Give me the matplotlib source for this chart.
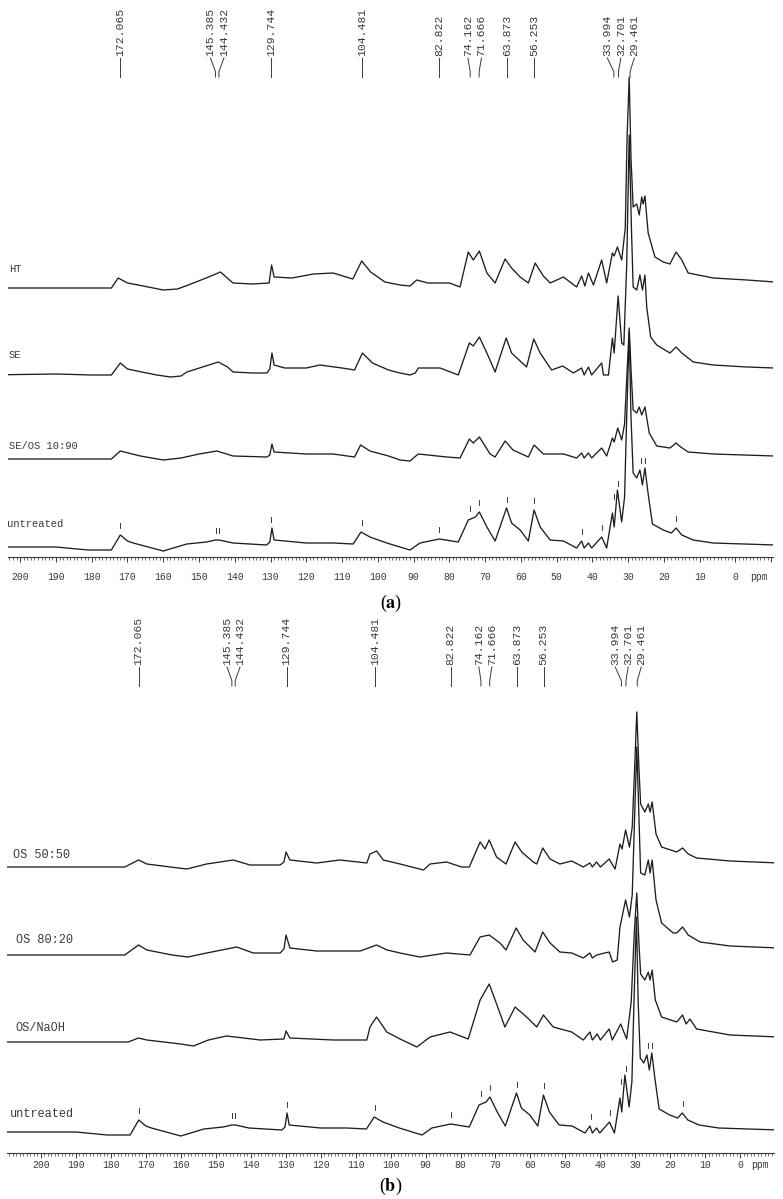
import matplotlib
matplotlib.use("Agg")
import matplotlib.pyplot as plt
import numpy as np
from matplotlib.ticker import FixedLocator, MultipleLocator

plt.rcParams['font.family'] = ['Liberation Mono', 'DejaVu Sans Mono']
plt.rcParams['mathtext.fontset'] = 'stix'

# ---------------- data ----------------
peak_labels = [172.065, 145.385, 144.432, 129.744, 104.481, 82.822, 74.162,
               71.666, 63.873, 56.253, 33.994, 32.701, 29.461]
mark_ppm = [172.065, 145.385, 144.432, 129.744, 104.481, 82.822, 74.162, 71.666,
            63.873, 56.253, 42.8, 37.4, 33.994, 32.701, 26.3, 25.2, 16.5]
tick_values = list(range(200, -1, -10))

labels_a = ['HT', 'SE', 'SE/OS 10:90', 'untreated']
labels_b = ['OS 50:50', 'OS 80:20', 'OS/NaOH', 'untreated']

ht = [(210, 0), (185, 0), (174.5, 0), (172.6, 10), (170, 5), (165.6, 2), (160, -2), (156, -1),
      (153, 3), (148, 10), (144, 16), (140.5, 5), (135, 4), (130.4, 5), (129.7, 23), (129.0, 11),
      (124, 10), (118, 14), (112.5, 15), (107, 9), (104.5, 27), (102, 16), (98, 6), (93.8, 3),
      (91, 2), (89.1, 8), (86, 5), (80, 5), (77, 1), (74.7, 36), (73.3, 28), (71.6, 37), (69.5, 15),
      (67.2, 5), (64.4, 29), (62.6, 20), (60.2, 11), (57.9, 5), (56.0, 25), (53.7, 12), (51.8, 5),
      (48.1, 11), (44.4, 1), (43.0, 12), (42.1, 2), (41.1, 15), (39.7, 3), (37.4, 28), (36.0, 5),
      (34.4, 35), (33.9, 32), (33.0, 41), (31.8, 28), (30.8, 60), (30.3, 150), (29.7, 211),
      (29.2, 130), (28.6, 81), (27.6, 84), (26.9, 73), (26.2, 91), (25.8, 84), (25.3, 92),
      (24.4, 55), (22.5, 31), (20.2, 26), (18.3, 24), (16.6, 36), (15.0, 28), (13.2, 15),
      (6.2, 10), (-3.2, 8), (-11, 6)]

se = [(210, 0), (190, 1), (180, 0), (174.5, 0), (172.0, 12), (170, 6), (166, 3), (161.8, 0),
      (158, -2), (155, -1), (153.4, 3), (149, 8), (144.6, 13), (142, 8), (140.5, 3), (135, 2),
      (131, 2), (130.2, 6), (129.6, 22), (129.0, 10), (126, 7), (120, 7), (116.2, 10), (110, 7),
      (106.5, 5), (104.3, 22), (101.5, 12), (97, 5), (93.8, 2), (91, 0), (89.5, 2), (88.7, 7),
      (82.6, 7), (77.5, 0), (74.4, 32), (73.3, 29), (71.6, 38), (69.5, 22), (67.2, 3), (64.1, 37),
      (62.6, 22), (58.4, 8), (56.4, 36), (54.6, 22), (51.4, 5), (48.3, 9), (45.3, 2), (43.0, 7),
      (42.3, 0), (41.1, 8), (40.2, 0), (37.4, 12), (36.9, 0), (35.5, 0), (34.4, 37), (33.9, 22),
      (32.8, 79), (31.8, 32), (31.2, 30), (30.4, 110), (29.7, 240), (29.1, 150), (28.6, 88),
      (27.6, 85), (26.7, 100), (26.0, 85), (25.3, 100), (24.8, 68), (23.7, 38), (22.0, 30),
      (18.3, 22), (16.6, 28), (15.0, 22), (11.8, 13), (6.2, 10), (-3.2, 8), (-11, 7)]

se_os = [(210, 0), (180, 0), (174.5, 0), (172.0, 8), (166.4, 3), (160, -1), (155, 1), (150, 5),
         (145, 8), (140.5, 3), (131, 2), (130.2, 4), (129.6, 15), (129.0, 7), (120, 5), (112.5, 5),
         (106.5, 2), (104.8, 14), (102.2, 8), (97, 3), (93.8, -1), (91, -2), (88.7, 5), (80.7, 2),
         (77, 1), (74.4, 20), (73.3, 16), (71.6, 22), (68.6, 5), (67.2, 2), (64.4, 18), (62.2, 9),
         (57.9, 2), (56.3, 14), (53.7, 5), (48.1, 5), (44.4, 1), (43.0, 6), (42.3, 1), (41.1, 6),
         (40.2, 1), (37.4, 11), (36.0, 3), (34.4, 21), (33.9, 17), (32.9, 31), (31.8, 19),
         (31.0, 35), (30.4, 80), (29.7, 131), (29.2, 90), (28.6, 49), (27.6, 46), (26.9, 52),
         (26.2, 44), (25.3, 52), (24.1, 26), (22.0, 13), (18.3, 11), (16.6, 16), (15.3, 12),
         (13.2, 7), (6.2, 5), (-11, 3)]

untreated = [(210, 0), (190, 0), (181, -3), (174.5, -3), (172.0, 12), (170, 6), (168.4, 4),
             (160, -4), (153.4, 3), (147.9, 5), (145.4, 7), (144.4, 7), (140.5, 4), (131.1, 2),
             (130.2, 5), (129.6, 19), (129.0, 7), (120, 4), (112.5, 4), (106.9, 3), (104.7, 15),
             (102.2, 10), (97.5, 4), (93.8, 0), (91, -3), (88.2, 4), (82.8, 8), (77.5, 5),
             (74.7, 27), (72.7, 30), (71.6, 35), (69.5, 20), (67.2, 6), (64.0, 39), (62.6, 24),
             (60.2, 17), (57.9, 6), (56.3, 37), (54.6, 20), (51.8, 7), (48.1, 6), (44.4, -1),
             (43.0, 6), (42.3, -1), (41.1, 4), (40.2, -1), (37.4, 10), (36.0, -1), (34.4, 34),
             (33.9, 20), (33.0, 57), (31.8, 25), (31.0, 50), (30.4, 130), (29.7, 215), (29.2, 130),
             (28.6, 74), (27.6, 69), (26.7, 77), (26.0, 62), (25.3, 79), (24.4, 53), (23.2, 23),
             (20.2, 17), (17.9, 14), (16.6, 19), (15.0, 12), (11.8, 7), (6.2, 4), (-11, 2)]

os_5050 = [(210, 0), (190, 0), (176, 0), (172.1, 7), (169.7, 3), (163, 0), (158.3, -2), (152.6, 3),
           (145, 7), (140.2, 2), (131.6, 2), (130.5, 5), (129.9, 15), (128.8, 7), (121.1, 4),
           (114.5, 7), (106.8, 4), (105.9, 13), (104.0, 16), (102.1, 7), (97.3, 3), (90.6, -3),
           (88.7, 3), (84.0, 5), (79.7, 0), (77.5, 0), (74.4, 25), (73.0, 18), (71.8, 27),
           (69.7, 10), (67.0, 3), (64.4, 25), (62.5, 15), (59.2, 5), (58.2, 3), (56.5, 19),
           (54.4, 8), (51.6, 3), (48.2, 6), (44.9, 0), (43.0, 4), (42.3, 0), (41.1, 5), (40.0, 0),
           (37.5, 8), (35.8, -2), (34.4, 23), (33.8, 18), (32.8, 37), (31.7, 20), (30.9, 40),
           (30.2, 100), (29.6, 155), (29.0, 100), (28.5, 63), (27.3, 55), (26.3, 63), (25.8, 55),
           (25.2, 65), (24.1, 33), (22.5, 20), (18.2, 15), (16.5, 19), (14.9, 13), (12.5, 9),
           (2.9, 6), (-11, 4)]

os_8020 = [(210, 0), (185, 0), (176, 0), (172.1, 10), (169.7, 5), (162.5, 0), (158, -2), (152.6, 2),
           (144, 8), (139.3, 2), (131.6, 2), (130.5, 6), (129.9, 20), (128.8, 7), (121.1, 4),
           (108.7, 4), (104.0, 10), (101, 5), (97.3, 2), (91.6, -2), (84.0, 2), (77.3, 0),
           (74.4, 18), (71.8, 20), (68.7, 12), (67.0, 5), (64.1, 27), (62.1, 15), (58.7, 3),
           (56.5, 23), (54.4, 12), (51.6, 3), (48.2, 2), (44.9, -3), (43.0, 2), (42.3, -3),
           (41.1, 0), (37.5, 3), (36.5, -7), (35.2, -5), (34.4, 28), (32.8, 55), (31.7, 38),
           (30.9, 60), (30.2, 140), (29.6, 208), (29.0, 140), (28.5, 82), (27.3, 80), (26.3, 95),
           (25.8, 82), (25.2, 95), (24.1, 55), (22.5, 32), (19.2, 22), (18.2, 22), (16.5, 28),
           (14.9, 20), (11.5, 13), (2.9, 9), (-11, 7)]

os_naoh = [(210, 0), (185, 0), (175, 0), (172.1, 4), (169.7, 2), (160, -2), (156.4, -4), (152.1, 2),
           (146.9, 6), (137.3, 2), (130.5, 3), (129.9, 11), (128.8, 4), (116.4, 2), (106.8, 2),
           (105.9, 15), (104.0, 25), (101.1, 10), (97.3, 3), (92.5, -5), (88.7, 5), (83.0, 10),
           (77.8, 3), (74.4, 42), (71.8, 58), (70.1, 42), (67.3, 15), (64.4, 35), (61.1, 25),
           (58.2, 15), (56.3, 27), (53.5, 15), (48.2, 10), (44.9, 2), (43.0, 10), (42.3, 2),
           (40.9, 8), (40.0, 2), (37.5, 13), (36.6, 2), (34.2, 18), (32.5, 3), (31.2, 40),
           (30.3, 110), (29.6, 149), (29.0, 100), (28.5, 68), (27.3, 62), (26.3, 70), (25.8, 62),
           (25.2, 72), (24.3, 42), (22.5, 25), (18.2, 20), (16.5, 27), (15.5, 18), (14.4, 23),
           (12.5, 13), (2.9, 7), (-11, 5)]

spectra_a = [ht, se, se_os, untreated]
spectra_b = [os_5050, os_8020, os_naoh, untreated]

# ---------------- layout ----------------
W, H = 783, 1199
INK = '#1e1e1e'
TXT = '#3a3a3a'
fig = plt.figure(figsize=(W / 100, H / 100), dpi=100)


def px_axes(x0, x1, y_top, y_axis, ppm_left, ppm_right):
    ax = fig.add_axes([x0 / W, 1 - y_axis / H, (x1 - x0) / W, (y_axis - y_top) / H])
    ax.set_xlim(ppm_left, ppm_right)
    ax.set_ylim(0, y_axis - y_top)
    for s in ('top', 'left', 'right'):
        ax.spines[s].set_visible(False)
    ax.spines['bottom'].set_color(TXT)
    ax.spines['bottom'].set_linewidth(0.8)
    ax.set_yticks([])
    majors = [v for v in range(-10, 211, 10) if min(ppm_left, ppm_right) <= v <= max(ppm_left, ppm_right)]
    ax.xaxis.set_major_locator(FixedLocator(majors))
    ax.xaxis.set_minor_locator(MultipleLocator(1))
    ax.tick_params(axis='x', which='major', direction='out', length=3.8, width=0.7,
                   color=TXT, labelbottom=False)
    ax.tick_params(axis='x', which='minor', direction='out', length=2.0, width=0.5, color=TXT)
    ax.patch.set_alpha(0)
    return ax


def spread(px, gap):
    order = np.argsort(px)
    clusters = [[px[i]] for i in order]
    changed = True
    while changed:
        changed = False
        new = []
        for c in clusters:
            if new:
                prev = new[-1]
                prev_last = np.mean(prev) + gap * (len(prev) - 1) / 2
                cur_first = np.mean(c) - gap * (len(c) - 1) / 2
                if cur_first - prev_last < gap:
                    new[-1] = prev + c
                    changed = True
                    continue
            new.append(c)
        clusters = new
    out = []
    for c in clusters:
        m, n = np.mean(c), len(c)
        out += [m + gap * (k - (n - 1) / 2) for k in range(n)]
    res = np.empty(len(px))
    res[order] = out
    return res


def panel(ax, spectra, names, bases_px, y_axis, name_xy, name_size,
          txt_bottom_px, line_top_px, line_bot_px, gap, lab_off, ppm_pos, tag, tag_y):
    for spec, base in zip(spectra, bases_px):
        p, v = zip(*spec)
        off = y_axis - base
        ax.plot(p, off + np.array(v), color=INK, lw=0.95, solid_joinstyle='round')
    # peak marks above the untreated trace
    p, v = zip(*spectra[-1])
    p = np.array(p)[::-1]
    v = np.array(v, dtype=float)[::-1]
    off = y_axis - bases_px[-1]
    for m in mark_ppm:
        loc = np.interp(np.linspace(m - 0.6, m + 0.6, 7), p, v).max()
        y0 = off + loc + 7
        ax.plot([m, m], [y0, y0 + 5], color=TXT, lw=0.7)
    for nm, (x, y) in zip(names, name_xy):
        fig.text(x / W, 1 - y / H, nm, fontsize=name_size, color=TXT, ha='left', va='center')
    pk = np.array(peak_labels)
    disp = ax.transData.transform(np.column_stack([pk, np.zeros_like(pk)]))[:, 0]
    lab_disp = spread(disp, gap)
    lab_ppm = ax.transData.inverted().transform(np.column_stack([lab_disp, np.zeros_like(lab_disp)]))[:, 0]
    yt = y_axis - txt_bottom_px
    y1 = y_axis - line_top_px
    y2 = y_axis - line_bot_px
    for val, lp in zip(pk, lab_ppm):
        ax.text(lp, yt, f'{val:.3f}', rotation=90, ha='center', va='bottom',
                fontsize=8.2, color=TXT)
        ax.plot([lp, val, val], [y1, y1 - 0.72 * (y1 - y2), y2], color=TXT, lw=0.7, clip_on=False)
    for t in tick_values:
        ax.text(t, -lab_off, str(t), ha='center', va='center', fontsize=7, color=TXT)
    ax.text(ppm_pos, -lab_off, 'ppm', ha='center', va='center', fontsize=7, color=TXT)
    fig.text(391 / W, 1 - tag_y / H, tag, ha='center', va='center', fontsize=13,
             family='Liberation Serif', color='black')


ax_a = px_axes(8, 773, 0, 557, 203.41, -10.51)
panel(ax_a, spectra_a, labels_a, [288, 375, 459, 547], 557,
      [(9, 269), (9, 355), (9, 446), (7, 524)], 7.6,
      56, 58, 77, 13.5, 20, -6.5, r'($\mathbf{a}$)', 603)

ax_b = px_axes(7, 774, 600, 1153, 209.69, -9.64)
panel(ax_b, spectra_b, labels_b, [867, 955, 1042, 1132], 1153,
      [(13, 855), (16, 940), (15, 1028), (10, 1114)], 8.6,
      665, 667, 686, 13.0, 12, -5.6, r'($\mathbf{b}$)', 1186)

fig.savefig('out.png', dpi=100)
